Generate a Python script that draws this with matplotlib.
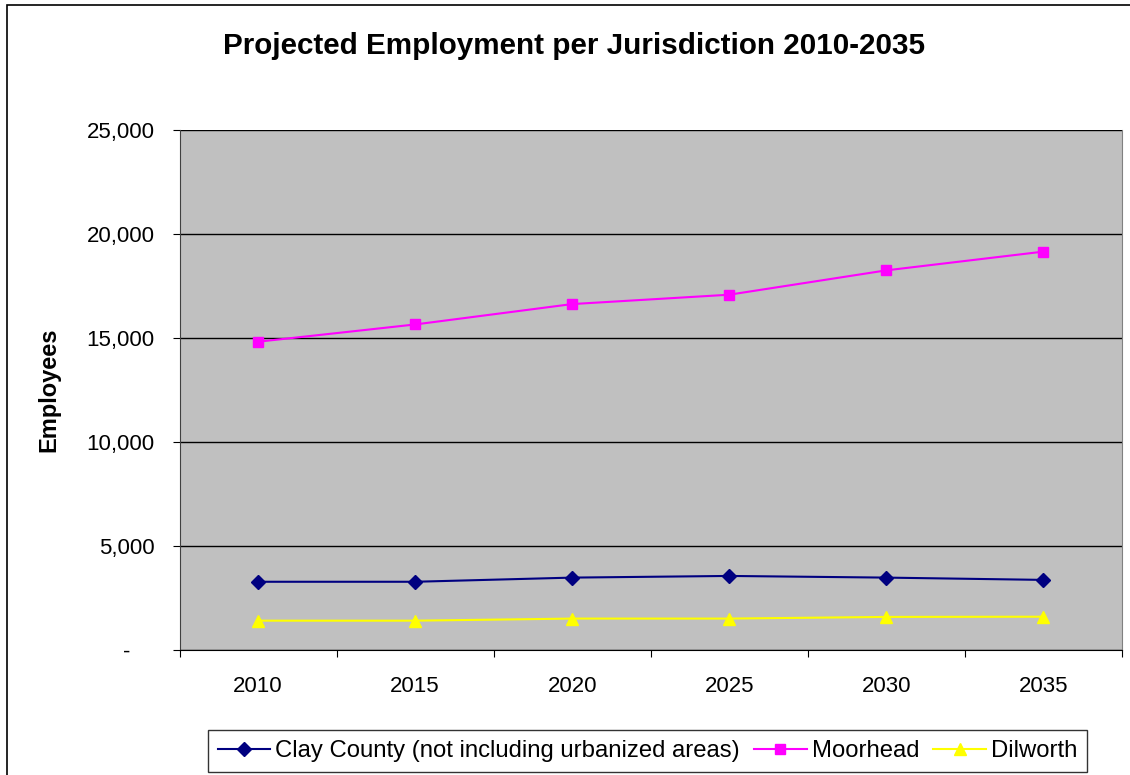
"""
Projected employment per jurisdiction, 2010-2035
"""

import matplotlib.pyplot as plt
from matplotlib.patches import Rectangle
from matplotlib.ticker import FuncFormatter

plt.rcParams['font.family'] = ['Liberation Sans', 'DejaVu Sans']

years = ['2010', '2015', '2020', '2025', '2030', '2035']
clay_county = [3280, 3280, 3480, 3560, 3480, 3370]
moorhead = [14820, 15650, 16630, 17080, 18250, 19150]
dilworth = [1410, 1410, 1510, 1510, 1590, 1600]

font_size = 16

fig = plt.figure(figsize=(11.3, 7.75), dpi=100)
ax = fig.add_axes([0.159, 0.1613, 0.8336, 0.671])
ax.set_facecolor('#C0C0C0')

x = range(len(years))
ax.plot(x, clay_county, color='#000080', marker='D', markersize=7, lw=1.5,
        label='Clay County (not including urbanized areas)')
ax.plot(x, moorhead, color='#FF00FF', marker='s', markersize=7, lw=1.5,
        label='Moorhead')
ax.plot(x, dilworth, color='#FFFF00', marker='^', markersize=9, lw=1.5,
        label='Dilworth')

ax.set_xlim(-0.5, len(years) - 0.5)
ax.set_ylim(0, 25000)
ax.set_yticks(range(0, 25001, 5000))
ax.yaxis.set_major_formatter(
    FuncFormatter(lambda v, p: '-    ' if v == 0 else f'{int(v):,}'))
ax.set_xticks([i - 0.5 for i in range(len(years) + 1)])
ax.set_xticklabels([])
ax.set_xticks(list(x), minor=True)
ax.set_xticklabels(years, minor=True)
ax.tick_params(axis='x', which='minor', length=0, pad=19, labelsize=font_size)
ax.tick_params(axis='x', which='major', length=5, direction='out')
ax.tick_params(axis='y', length=5, direction='out', labelsize=font_size, pad=13)

ax.grid(axis='y', color='black', lw=1)
ax.set_axisbelow(True)
ax.spines['top'].set_visible(False)
ax.spines['right'].set_color('#808080')
ax.spines['left'].set_color('#404040')
ax.spines['bottom'].set_color('black')

ax.set_ylabel('Employees', fontsize=17, fontweight='bold', labelpad=19)
fig.text(0.508, 0.94, 'Projected Employment per Jurisdiction 2010-2035',
         ha='center', va='center', fontsize=21.3, fontweight='bold')

leg = fig.legend(loc='lower center', bbox_to_anchor=(0.573, -0.011), ncol=3,
                 fontsize=17.2, frameon=True, fancybox=False,
                 handlelength=2.2, handletextpad=0.2, columnspacing=0.6,
                 borderpad=0.4)
leg.get_frame().set_edgecolor('black')
leg.get_frame().set_linewidth(1)

fig.patches.append(Rectangle((0.0062, -0.05), 1.1, 1.0435, transform=fig.transFigure,
                             fill=False, edgecolor='black', lw=1.2))

fig.savefig('out.png', dpi=100)
